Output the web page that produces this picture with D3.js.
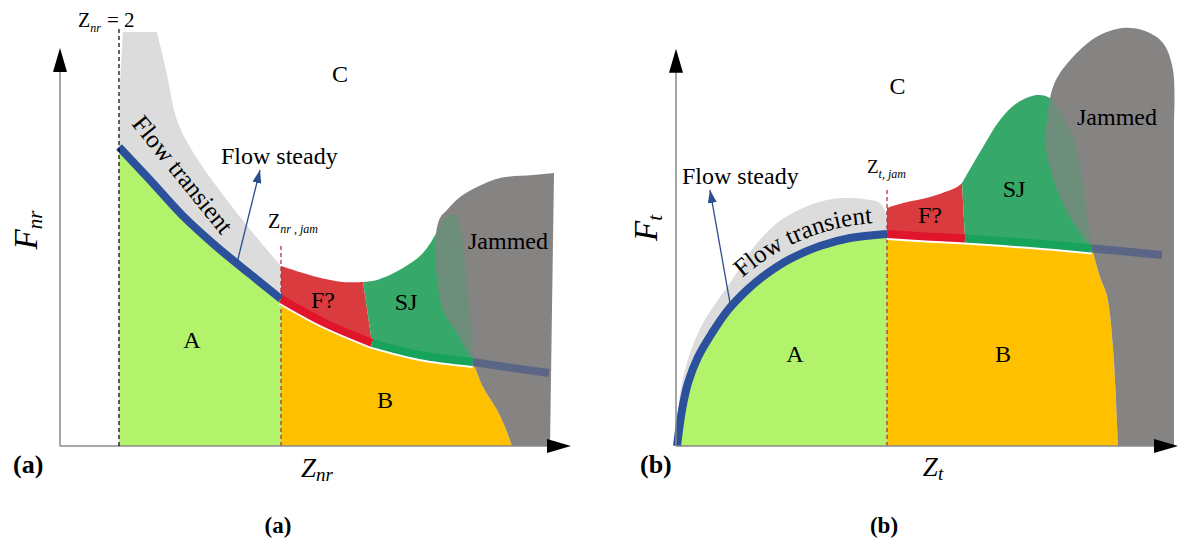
<!DOCTYPE html>
<html>
<head>
<meta charset="utf-8">
<script src="https://cdn.jsdelivr.net/npm/d3@7"></script>
<style>
  body { margin: 0; background: #fff; }
  svg { display: block; font-family: "Liberation Serif", "Times New Roman", serif; }
</style>
</head>
<body>
<div id="chart"></div>
<script>
// all outlines are in schematic units, 0..100 on both axes

// ---- panel (a) : F_nr vs Z_nr ----
const aZ2 = 11.8, aZjam = 44.2
const aBlue  = [[11.8,74.75],[18,66.5],[24.6,57.5],[31.4,49.75],[38,43],[44.2,36.75]]
const aRed   = [[44.2,36.75],[53,30.75],[62.4,25.75]]
const aGreen = [[62.4,25.75],[72,22.75],[82.6,21]]
const aSlate = [[82.6,21],[90,19.6],[97.8,18.25]]
const aTransTop  = [[12.6,103.5],[19.4,103.5]]
const aTransEdge = [[19.4,103.5],[21.2,94],[23.6,80.75],[28,70.75],[33.4,61.5],[38.6,53.25],[44.2,45]]
const aFTop  = [[44.2,45],[51.4,42.25],[56.6,41],[60.6,41]]
const aSJTop = [[60.6,41],[63.4,41.5],[68.6,44.5],[72.6,48.25],[75.4,53.5],[77,57],[78.6,58],[79.6,57.5]]
const aSJRight = [[79.6,57.5],[80.6,50.75],[81.6,38.25],[82.4,28.25],[82.6,21]]
const aJamEdge = [[98.8,68.25],[94.6,67.75],[88,67],[83.4,64.75],[80,62.25],[77.4,59],[76,57],[75,50.75],[75.4,42.25],[76.6,34],[79.4,28.25],[82.6,21]]
const aJamLower = [[82.6,21],[84.6,14.75],[87.4,9],[89,4.75],[90.4,0]]
const aJamFoot = [[90.4,0],[98,0]]
const aJamRight = [[98,0],[98.8,68.25]]
const aSteady = [[35.4,45.75],[40,69]]
const aLabels = [
  ["C", 56, 91, "middle"], ["A", 26.4, 24.5, "middle"], ["B", 65, 9.5, "middle"],
  ["F?", 52.6, 34.5, "middle"], ["SJ", 69.2, 34, "middle"],
  ["Jammed", 81.6, 49.25, "start"], ["Flow steady", 32.2, 70.5, "start"]
]

// ---- panel (b) : F_t vs Z_t ----
const bZjam = 42.2
const bBlue  = [[0.2,0],[1.2,9],[2.4,15.75],[4.4,22.25],[7.2,28.25],[10.4,34],[14.2,39],[17.8,42.75],[22.8,46.75],[28.8,50],[34.8,52],[42.2,53]]
const bRed   = [[42.2,53],[50,52.4],[57.8,51.9]]
const bGreen = [[57.8,51.9],[70.8,50.75],[83.2,49.4]]
const bSlate = [[83.2,49.4],[90,48.6],[97.2,47.75]]
const bTransEdge = [[0.2,1.5],[0.4,8.25],[1.2,15.75],[2.8,23.25],[5.4,30.75],[8.8,37.25],[11.6,42.25],[15.4,49.5],[20.2,55.75],[25.4,59.5],[30.2,61.5],[34.2,62],[38.8,61.5],[40.8,60.75],[42.2,57.75]]
const bFTop  = [[42.2,59.5],[45.4,60.75],[50.8,62.25],[56.2,64.75],[57.2,65.75]]
const bSJTop = [[57.2,65.75],[61.4,74.75],[64.8,81.5],[68.2,85.75],[72.2,87.75],[74.8,87],[77.4,82.25],[79.8,75.75],[81.2,67.25],[82.2,57.25],[83.2,49.4]]
const bJamEdge = [[83.2,49.4],[81.4,52.25],[76.8,62.25],[73.8,75.75],[74.2,81.5],[75.2,89],[76.8,93.25],[81.4,99.75],[84.8,102.75],[89.4,104.5],[93.8,103.75],[97.4,100.75],[99.4,94],[99.6,81.5]]
const bJamRight = [[99.6,81.5],[99.6,0]]
const bJamFoot = [[99.6,0],[88.4,0]]
const bJamLower = [[83.2,49.4],[84.8,42.25],[86.2,37.5],[87.4,24.5],[88,11.25],[88.4,0]]
const bSteady = [[10.8,35.75],[6.8,64]]
const bLabels = [
  ["C", 44.3, 88, "middle"], ["A", 23.8, 21, "middle"], ["B", 65.4, 21, "middle"],
  ["F?", 50.8, 55.75, "middle"], ["SJ", 67.6, 62.25, "middle"],
  ["Jammed", 80.2, 80.25, "start"], ["Flow steady", 1.2, 65.5, "start"]
]

const col = {
  trans: "#dcdcdc", A: "#b3f36b", B: "#ffc000", F: "#da3b3e", SJ: "#36a96a",
  jam: "#868383", blue: "#2b519c", redBand: "#e0142b", greenBand: "#17a35a",
  slate: "#5b6585", arrow: "#2b4d8e", axis: "#8a8a8a", jamLine: "#b8323a"
}

const svg = d3.select("#chart").append("svg").attr("width", 1180).attr("height", 548)

svg.append("defs").append("marker")
    .attr("id", "head")
    .attr("markerUnits", "userSpaceOnUse")
    .attr("markerWidth", 14).attr("markerHeight", 9)
    .attr("refX", 13).attr("refY", 4.5)
    .attr("orient", "auto")
  .append("path")
    .attr("d", "M0,0L13,4.5L0,9Z")
    .attr("fill", col.arrow)

const rev = a => a.slice().reverse()
const last = a => a[a.length - 1]

function richText(g, x, y, parts, anchor) {
    let t = g.append("text").attr("x", x).attr("y", y).attr("text-anchor", anchor || "start")
    parts.forEach(p => t.append("tspan")
        .text(p.t)
        .attr("font-size", p.s)
        .attr("font-style", p.i ? "italic" : null)
        .attr("dy", p.dy || 0))
    return t
}

function panel(p) {
    let x = d3.scaleLinear().domain([0, 100]).range(p.xRange)
    let y = d3.scaleLinear().domain([0, 100]).range([446, 46])
    let line = d3.line().x(d => x(d[0])).y(d => y(d[1])).curve(d3.curveCatmullRom.alpha(0.5))
    let shape = edges => edges.map((e, i) => {
        let s = line(e)
        return i ? "L" + s.slice(1) : s
    }).join("") + "Z"

    let g = svg.append("g")
    let jamD = shape(p.jam)

    g.append("path").attr("d", shape(p.trans)).attr("fill", col.trans)
    g.append("path").attr("d", shape(p.A)).attr("fill", col.A)
    g.append("path").attr("d", shape(p.F)).attr("fill", col.F)
    g.append("path").attr("d", shape(p.SJ)).attr("fill", col.SJ)
    g.append("path").attr("d", shape(p.B)).attr("fill", col.B)
    g.append("path").attr("d", jamD).attr("fill", col.jam)

    // SJ seen through the jammed zone
    g.append("clipPath").attr("id", p.id + "clip").append("path").attr("d", jamD)
    g.append("path").attr("d", shape(p.SJ))
        .attr("fill", col.SJ).attr("opacity", 0.3)
        .attr("clip-path", `url(#${p.id}clip)`)

    // jam line
    g.append("line")
        .attr("x1", x(p.zJam)).attr("x2", x(p.zJam))
        .attr("y1", y(0)).attr("y2", y(p.jamTop))
        .attr("stroke", col.jamLine).attr("stroke-width", 1.3)
        .attr("stroke-dasharray", "4,3")

    // boundary band: thin white gap below red / green parts
    ;[p.red, p.green].forEach(seg => g.append("path")
        .attr("d", line(seg)).attr("fill", "none")
        .attr("stroke", "#fff").attr("stroke-width", p.band)
        .attr("transform", "translate(0,2)"))
    let bandPath = g.append("path").attr("d", line(p.blue)).attr("fill", "none")
        .attr("stroke", col.blue).attr("stroke-width", p.band)
    g.append("path").attr("d", line(p.red)).attr("fill", "none")
        .attr("stroke", col.redBand).attr("stroke-width", p.band)
    g.append("path").attr("d", line(p.green)).attr("fill", "none")
        .attr("stroke", col.greenBand).attr("stroke-width", p.band)
    g.append("path").attr("d", line(p.slate)).attr("fill", "none")
        .attr("stroke", col.slate).attr("stroke-width", p.band)

    // axes with arrow heads
    let x0 = x(0), y0 = y(0), xt = x(p.axisEnd[0]), yt = y(p.axisEnd[1])
    g.append("line").attr("x1", x0).attr("y1", y0).attr("x2", xt - 20).attr("y2", y0)
        .attr("stroke", col.axis).attr("stroke-width", 1.5)
    g.append("line").attr("x1", x0).attr("y1", y0).attr("x2", x0).attr("y2", yt + 20)
        .attr("stroke", col.axis).attr("stroke-width", 1.5)
    g.append("path").attr("d", `M${xt},${y0}L${xt - 24},${y0 - 7}L${xt - 24},${y0 + 7}Z`).attr("fill", "#000")
    g.append("path").attr("d", `M${x0},${yt}L${x0 - 7},${yt + 24}L${x0 + 7},${yt + 24}Z`).attr("fill", "#000")

    // flow steady arrow
    g.append("line")
        .attr("x1", x(p.steady[0][0])).attr("y1", y(p.steady[0][1]))
        .attr("x2", x(p.steady[1][0])).attr("y2", y(p.steady[1][1]))
        .attr("stroke", col.arrow).attr("stroke-width", 1.3)
        .attr("marker-end", "url(#head)")

    p.labels.forEach(l => g.append("text")
        .attr("x", x(l[1])).attr("y", y(l[2]))
        .attr("text-anchor", l[3])
        .attr("font-size", 24)
        .text(l[0]))

    return {g, x, y, line, bandPath}
}

// ---------- panel (a) ----------
let pa = panel({
    id: "a", xRange: [60, 560], band: 8, zJam: aZjam, jamTop: 50.75, axisEnd: [102.2, 99.5],
    blue: aBlue, red: aRed, green: aGreen, slate: aSlate, steady: aSteady, labels: aLabels,
    trans: [aTransTop, aTransEdge, [last(aTransEdge), last(aBlue)], rev(aBlue), [aBlue[0], [12, 90], aTransTop[0]]],
    A: [[[aZ2, 0], aBlue[0]], aBlue, [last(aBlue), [aZjam, 0]]],
    F: [aFTop, [last(aFTop), last(aRed)], rev(aRed), [aRed[0], aFTop[0]]],
    SJ: [aSJTop, aSJRight, rev(aGreen), [aGreen[0], aSJTop[0]]],
    B: [[[aZjam, 0], aRed[0]], aRed, aGreen, aJamLower, [last(aJamLower), [aZjam, 0]]],
    jam: [aJamEdge, aJamLower, aJamFoot, aJamRight]
})

// Z_nr = 2 boundary
pa.g.append("line")
    .attr("x1", pa.x(aZ2)).attr("x2", pa.x(aZ2))
    .attr("y1", pa.y(0)).attr("y2", pa.y(104.5))
    .attr("stroke", "#000").attr("stroke-width", 1.2).attr("stroke-dasharray", "4,3")
richText(pa.g, pa.x(3.6), pa.y(104.75), [{t: "Z", s: 20}, {t: "nr", s: 12, i: true, dy: 5}])
richText(pa.g, pa.x(9.4), pa.y(104.75), [{t: "= 2", s: 21}])
richText(pa.g, pa.x(41.6), pa.y(54.5), [{t: "Z", s: 20}, {t: "nr , jam", s: 12, i: true, dy: 5}])

pa.g.append("text")
    .attr("transform", `translate(${pa.x(14.2)},${pa.y(80.5)}) rotate(51)`)
    .attr("font-size", 25)
    .text("Flow transient")

richText(pa.g, 317, 477, [{t: "Z", s: 27, i: true}, {t: "nr", s: 19, i: true, dy: 4}], "middle")
richText(pa.g, 0, 0, [{t: "F", s: 33, i: true}, {t: "nr", s: 21, i: true, dy: 5}], "middle")
    .attr("transform", "translate(37,230) rotate(-90)")
pa.g.append("text").attr("x", 13).attr("y", 473).attr("font-size", 26).attr("font-weight", "bold").text("(a)")
pa.g.append("text").attr("x", 278).attr("y", 533).attr("text-anchor", "middle")
    .attr("font-size", 23).attr("font-weight", "bold").text("(a)")

// ---------- panel (b) ----------
let pb = panel({
    id: "b", xRange: [676, 1176], band: 8, zJam: bZjam, jamTop: 64.5, axisEnd: [100.4, 99.3],
    blue: bBlue, red: bRed, green: bGreen, slate: bSlate, steady: bSteady, labels: bLabels,
    trans: [bTransEdge, [last(bTransEdge), last(bBlue)], rev(bBlue), [bBlue[0], bTransEdge[0]]],
    A: [bBlue, [last(bBlue), [bZjam, 0]], [[bZjam, 0], bBlue[0]]],
    F: [bFTop, [last(bFTop), last(bRed)], rev(bRed), [bRed[0], bFTop[0]]],
    SJ: [bSJTop, rev(bGreen), [bGreen[0], bSJTop[0]]],
    B: [[[bZjam, 0], bRed[0]], bRed, bGreen, bJamLower, [last(bJamLower), [bZjam, 0]]],
    jam: [bJamEdge, bJamRight, bJamFoot, rev(bJamLower)]
})

richText(pb.g, pb.x(38.2), pb.y(68.25), [{t: "Z", s: 19}, {t: "t, jam", s: 12, i: true, dy: 5}])

// "Flow transient" follows the blue curve, a little above it
{
    let node = pb.bandPath.node(), L = node.getTotalLength(), pts = []
    for (let l = 0; l < L; l += 2) {
        let a = node.getPointAtLength(l), b = node.getPointAtLength(Math.min(L, l + 1.5))
        let dx = b.x - a.x, dy = b.y - a.y, n = Math.hypot(dx, dy) || 1
        pts.push([a.x + 12 * dy / n, a.y - 12 * dx / n])
    }
    let off = pb.g.append("path").attr("id", "bTextPath").attr("fill", "none")
        .attr("d", d3.line()(pts))
    let start = 0, acc = 0
    for (let i = 1; i < pts.length; i++) {
        acc += Math.hypot(pts[i][0] - pts[i - 1][0], pts[i][1] - pts[i - 1][1])
        if (pts[i][0] >= 741) { start = acc; break }
    }
    pb.g.append("text").attr("font-size", 25)
      .append("textPath").attr("href", "#bTextPath").attr("startOffset", start)
        .text("Flow transient")
}

richText(pb.g, 933, 476, [{t: "Z", s: 27, i: true}, {t: "t", s: 19, i: true, dy: 4}], "middle")
richText(pb.g, 0, 0, [{t: "F", s: 33, i: true}, {t: "t", s: 21, i: true, dy: 5}], "middle")
    .attr("transform", "translate(657,228) rotate(-90)")
pb.g.append("text").attr("x", 640).attr("y", 473).attr("font-size", 26).attr("font-weight", "bold").text("(b)")
pb.g.append("text").attr("x", 884).attr("y", 533).attr("text-anchor", "middle")
    .attr("font-size", 23).attr("font-weight", "bold").text("(b)")
</script>
</body>
</html>
